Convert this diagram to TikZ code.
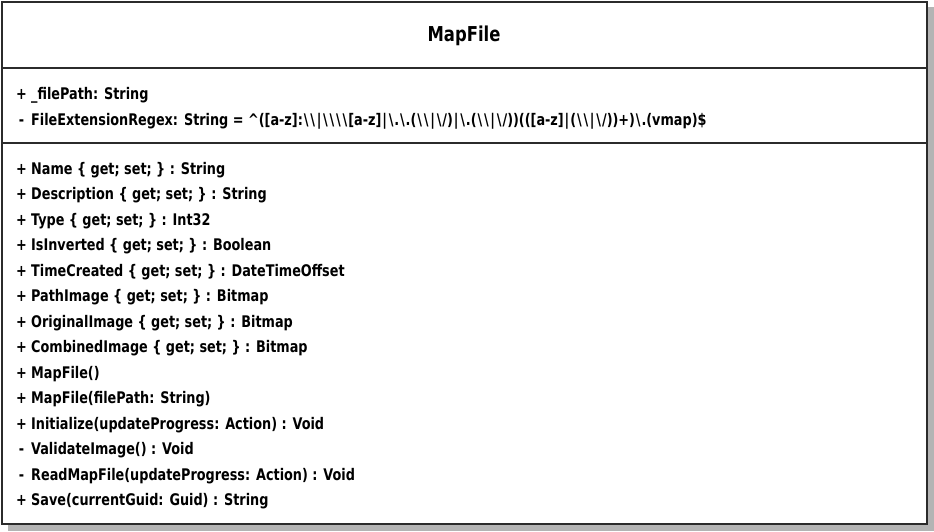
\documentclass[tikz,border=0pt]{standalone}
\usepackage{fontspec}
\newfontfamily\uml{DejaVu Sans Condensed Bold}[FakeStretch=0.89]
\definecolor{shadowgray}{HTML}{B4B4B4}
\definecolor{edge}{HTML}{2B2B2B}
\newcommand\bsl{\kern0.9pt\textbackslash\kern0.9pt}
\newcommand\pip{\kern0.9pt|\kern0.9pt}
\tikzset{
  sig/.style={anchor=base, inner sep=0pt, font=\uml\fontsize{16}{19}\selectfont},
  mem/.style={anchor=base west, inner sep=0pt, font=\uml\fontsize{16}{19}\selectfont},
  ttl/.style={anchor=base, inner sep=0pt, font=\uml\fontsize{20.5}{24}\selectfont},
  sepline/.style={draw=edge, line width=1.5pt}
}
\begin{document}
\begin{tikzpicture}[x=1pt,y=-1pt]
\useasboundingbox (0,0) rectangle (934,531);
\fill[shadowgray] (8,7) rectangle (934,531);
\node[draw=edge, line width=1.5pt, fill=white, anchor=north west, minimum width=925pt, minimum height=522pt, inner sep=0pt] (cls) at (1,1) {};
\coordinate (s1l) at (1,68); \coordinate (s1r) at (926,68);
\coordinate (s2l) at (1,143); \coordinate (s2r) at (926,143);
\draw[sepline] (s1l) -- (s1r);
\draw[sepline] (s2l) -- (s2r);
\node[ttl] (title) at (464,41.5) {MapFile};
% attributes
\node[sig] (a1s) at (21.5,99) {+};
\node[mem] (a1) at (31,99) {\_filePath: String};
\node[sig] (a2s) at (21.5,125) {-};
\node[mem] (a2) at (31,125) {FileExtensionRegex: String = \textasciicircum([a-z]:\bsl\bsl\pip\bsl\bsl\bsl\bsl[a-z]\pip\bsl.\bsl.(\bsl\bsl\pip\bsl/)\pip\bsl.(\bsl\bsl\pip\bsl/))(([a-z]\pip(\bsl\bsl\pip\bsl/))+)\bsl.(vmap)\$};
% members
\node[sig] (m1s) at (21.5,174) {+};
\node[mem] (m1) at (31,174) {Name \{ get; set; \} : String};
\node[sig] (m2s) at (21.5,199.5) {+};
\node[mem] (m2) at (31,199.5) {Description \{ get; set; \} : String};
\node[sig] (m3s) at (21.5,225) {+};
\node[mem] (m3) at (31,225) {Type \{ get; set; \} : Int32};
\node[sig] (m4s) at (21.5,250.5) {+};
\node[mem] (m4) at (31,250.5) {IsInverted \{ get; set; \} : Boolean};
\node[sig] (m5s) at (21.5,276) {+};
\node[mem] (m5) at (31,276) {TimeCreated \{ get; set; \} : DateTimeOffset};
\node[sig] (m6s) at (21.5,301.5) {+};
\node[mem] (m6) at (31,301.5) {PathImage \{ get; set; \} : Bitmap};
\node[sig] (m7s) at (21.5,327) {+};
\node[mem] (m7) at (31,327) {OriginalImage \{ get; set; \} : Bitmap};
\node[sig] (m8s) at (21.5,352.5) {+};
\node[mem] (m8) at (31,352.5) {CombinedImage \{ get; set; \} : Bitmap};
\node[sig] (m9s) at (21.5,378) {+};
\node[mem] (m9) at (31,378) {MapFile()};
\node[sig] (m10s) at (21.5,403.5) {+};
\node[mem] (m10) at (31,403.5) {MapFile(filePath: String)};
\node[sig] (m11s) at (21.5,429) {+};
\node[mem] (m11) at (31,429) {Initialize(updateProgress: Action) : Void};
\node[sig] (m12s) at (21.5,454.5) {-};
\node[mem] (m12) at (31,454.5) {ValidateImage() : Void};
\node[sig] (m13s) at (21.5,480) {-};
\node[mem] (m13) at (31,480) {ReadMapFile(updateProgress: Action) : Void};
\node[sig] (m14s) at (21.5,505.5) {+};
\node[mem] (m14) at (31,505.5) {Save(currentGuid: Guid) : String};
\end{tikzpicture}
\end{document}
